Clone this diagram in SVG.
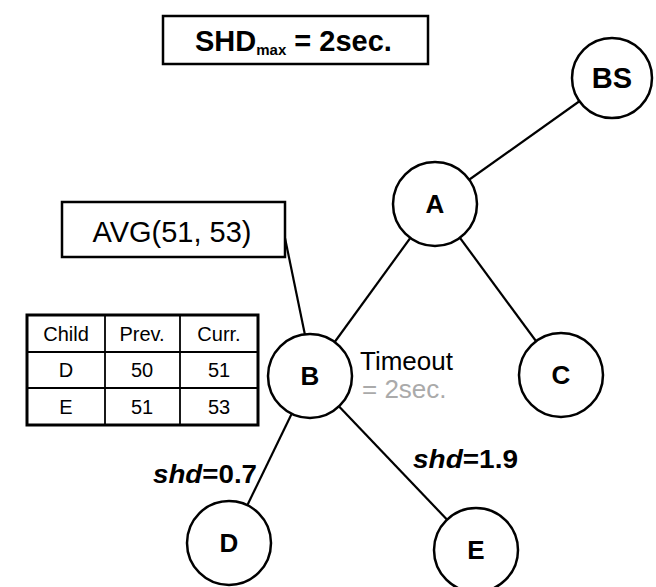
<svg xmlns="http://www.w3.org/2000/svg" width="656" height="587" viewBox="0 0 656 587">
<style>
.edge{stroke:#000;stroke-width:2.2;fill:none}
.node circle{fill:#fff;stroke:#000;stroke-width:2.5}
.node text{font-family:"Liberation Sans",Arial,sans-serif;font-weight:bold;font-size:26px;text-anchor:middle}
.box{fill:#fff;stroke:#000;stroke-width:2.5}
.tbl{fill:none;stroke:#000;stroke-width:1.8}
.tt{font-family:"Liberation Sans",Arial,sans-serif;font-size:20px;text-anchor:middle}
.lbl{font-family:"Liberation Sans",Arial,sans-serif;font-size:26px;font-weight:bold}
</style>
<rect width="656" height="587" fill="#fff"/>
<g id="connectors">
<line class="edge" x1="612" y1="78" x2="435" y2="204"/>
<line class="edge" x1="435" y1="204" x2="310" y2="376"/>
<line class="edge" x1="435" y1="204" x2="561" y2="375"/>
<line class="edge" x1="310" y1="376" x2="229" y2="543"/>
<line class="edge" x1="310" y1="376" x2="476" y2="550"/>
<line class="edge" x1="285" y1="238" x2="305" y2="335"/>
</g>
<g id="shdmax">
<rect class="box" x="163" y="16" width="265" height="48"/>
<text x="195" y="51" font-family="Liberation Sans,Arial,sans-serif" font-weight="bold" font-size="29">SHD<tspan font-size="15" dy="4">max</tspan><tspan dy="-4"> = 2sec.</tspan></text>
</g>
<g id="avg">
<rect class="box" x="62" y="202" width="223" height="55"/>
<text x="172" y="242" font-family="Liberation Sans,Arial,sans-serif" font-size="29" text-anchor="middle">AVG(51, 53)</text>
</g>
<g id="table">
<rect x="27" y="315" width="231" height="110" fill="#fff" stroke="#000" stroke-width="3"/>
<line class="tbl" x1="105" y1="315" x2="105" y2="425"/>
<line class="tbl" x1="180" y1="315" x2="180" y2="425"/>
<line class="tbl" x1="27" y1="352" x2="258" y2="352" stroke-width="2.5"/>
<line class="tbl" x1="27" y1="388" x2="258" y2="388" stroke-width="2.5"/>
<text class="tt" x="66" y="341">Child</text>
<text class="tt" x="142" y="341">Prev.</text>
<text class="tt" x="219" y="341">Curr.</text>
<text class="tt" x="66" y="377">D</text>
<text class="tt" x="142" y="377">50</text>
<text class="tt" x="219" y="377">51</text>
<text class="tt" x="66" y="414">E</text>
<text class="tt" x="142" y="414">51</text>
<text class="tt" x="219" y="414">53</text>
</g>
<g id="node-BS" class="node"><circle cx="612" cy="78" r="40"/><text x="612" y="88" style="font-size:29px">BS</text></g>
<g id="node-A" class="node"><circle cx="435" cy="204" r="42"/><text x="435" y="213">A</text></g>
<g id="node-B" class="node"><circle cx="310" cy="376" r="42"/><text x="310" y="385">B</text></g>
<g id="node-C" class="node"><circle cx="561" cy="375" r="42"/><text x="561" y="384">C</text></g>
<g id="node-D" class="node"><circle cx="229" cy="543" r="42"/><text x="229" y="552">D</text></g>
<g id="node-E" class="node"><circle cx="476" cy="550" r="42"/><text x="476" y="559">E</text></g>
<g id="timeout">
<text x="360" y="370" font-family="Liberation Sans,Arial,sans-serif" font-size="26">Timeout</text>
<text x="362" y="398" font-family="Liberation Sans,Arial,sans-serif" font-size="26" fill="#aaa">= 2sec.</text>
</g>
<g id="labels">
<text class="lbl" x="153" y="483" textLength="104" lengthAdjust="spacingAndGlyphs"><tspan font-style="italic">shd</tspan>=0.7</text>
<text class="lbl" x="413" y="468" textLength="105" lengthAdjust="spacingAndGlyphs"><tspan font-style="italic">shd</tspan>=1.9</text>
</g>
</svg>
